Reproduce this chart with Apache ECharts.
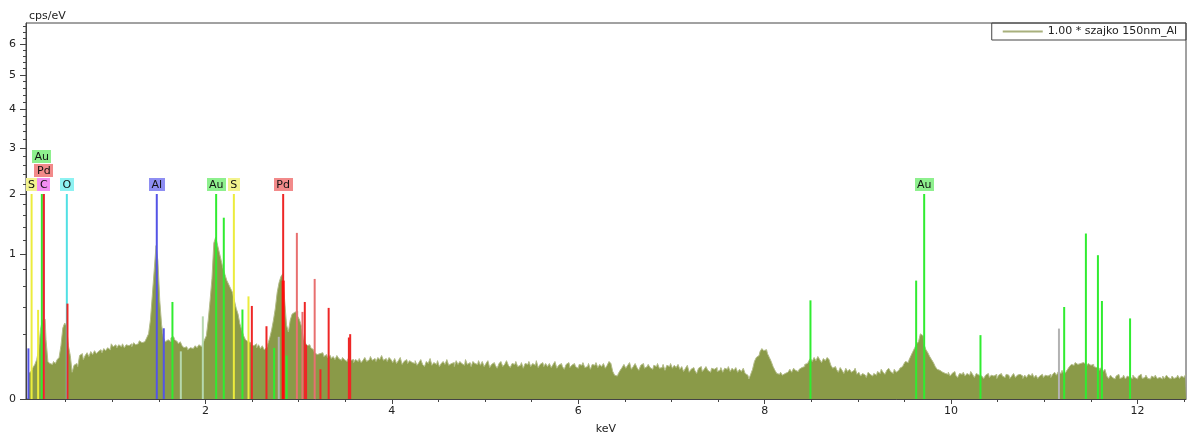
<!DOCTYPE html>
<html><head><meta charset="utf-8">
<script src="https://cdn.jsdelivr.net/npm/echarts@6/dist/echarts.min.js"></script>
<style>html,body{margin:0;padding:0;background:#fff}#c{width:1187px;height:440px}</style>
</head><body><div id="c"></div>
<script>
// ---- spectrum: channel start, channel width (keV), counts in cps/eV ----
const E0 = 0.10, dE = 0.02;
const countsLow = [
0.031,0.036,0.036,0.047,0.057,0.074,0.116,0.227,0.297,0.304,
0.167,0.067,0.060,0.057,0.067,0.060,0.074,0.082,0.135,0.240,
0.275,0.254,0.135,0.090,0.034,0.054,0.060,0.050,0.090,0.098,
0.074,0.090,0.102,0.086,0.107,0.094,0.111,0.098,0.107,0.116,
0.102,0.121,0.111,0.125,0.116,0.145,0.130,0.140,0.125,0.140,
0.130,0.145,0.125,0.140,0.135,0.145,0.130,0.151,0.140,0.145,
0.161,0.151,0.156,0.167,0.178,0.202,0.297,0.511,0.783,1.120,
0.908,0.463,0.261,0.178,0.156,0.167,0.156,0.178,0.184,0.167,
0.156,0.145,0.156,0.135,0.125,0.130,0.116,0.125,0.121,0.125,
0.135,0.125,0.140,0.130,0.145,0.167,0.190,0.297,0.463,0.690,
1.157,1.246,1.128,1.015,0.908,0.807,0.736,0.667,0.624,0.581,
0.541,0.463,0.392,0.343,0.268,0.227,0.190,0.167,0.156,0.151,
0.140,0.135,0.145,0.125,0.140,0.121,0.135,0.116,0.125,0.145,
0.178,0.227,0.297,0.392,0.541,0.645,0.713,0.747,0.463,0.261,
0.214,0.297,0.343,0.359,0.367,0.327,0.297,0.254,0.178,0.151,
0.135,0.140,0.125,0.116,0.102,0.094,0.098,0.090,0.102,0.086,
0.094,0.082,0.090,0.078,0.086,0.074,0.090,0.078,0.071,0.082,
0.074,0.067,0.078,0.071,0.074,0.063,0.074,0.067,0.078,0.063,
0.071,0.082,0.067,0.074,0.086,0.071,0.078,0.067,0.082,0.074,
0.090,0.071,0.078,0.067,0.082,0.074
];
const countsHigh = [
0.063,0.078,0.060,0.070,0.082,0.057,0.067,0.074,0.060,0.070,0.063,
0.060,0.070,0.054,0.063,0.074,0.057,0.050,0.067,0.060,0.078,0.054,0.063,0.057,0.070,0.050,0.060,0.067,0.057,0.074,0.054,0.060,0.063,0.050,0.070,0.057,0.067,0.060,0.054,0.074,0.057,0.063,0.050,0.067,0.060,0.057,0.070,
0.054,0.067,0.050,0.060,0.070,0.047,0.057,0.063,0.054,0.045,0.060,0.067,0.050,0.057,0.070,0.054,0.047,0.060,0.057,0.067,0.050,0.054,0.063,0.045,0.060,0.057,0.067,0.050,0.060,0.054,0.070,0.047,0.057,0.063,0.050,0.060,
0.050,0.060,0.047,0.057,0.067,0.045,0.054,0.060,0.050,0.042,0.057,0.063,0.047,0.054,0.060,0.050,0.045,0.057,0.054,0.063,0.047,0.050,0.060,0.042,0.057,0.054,0.063,0.047,0.057,0.050,0.060,0.045,0.054,0.067,0.060,
0.036,0.027,0.025,0.031,0.039,
0.047,0.057,0.045,0.054,0.063,0.042,0.050,0.060,0.047,0.039,0.054,0.060,0.045,0.050,0.057,0.047,0.042,0.054,0.050,0.060,0.045,0.047,0.057,0.039,0.054,0.050,0.060,0.045,0.054,0.047,0.057,
0.042,0.050,0.036,0.045,0.054,0.034,0.042,0.047,0.039,0.031,0.045,0.050,0.036,0.042,0.050,0.039,0.034,0.045,0.042,0.047,0.036,0.039,0.047,0.034,0.045,0.042,0.050,0.036,0.045,0.039,0.047,0.034,0.042,0.036,0.045,0.031,
0.027,0.019,0.029,0.042,
0.067,0.082,0.090,
0.107,0.121,0.111,0.116,0.098,0.082,
0.067,0.050,0.039,
0.031,0.029,0.034,0.027,0.031,0.034,
0.036,0.042,0.034,0.045,0.039,0.036,0.042,0.047,
0.050,0.057,0.060,0.067,
0.078,0.067,0.082,0.070,0.086,0.074,0.063,0.078,0.070,0.082,0.074,
0.054,0.045,0.050,
0.042,0.034,0.047,0.039,0.031,0.045,0.036,0.042,0.034,0.039,0.045,
0.029,0.034,0.025,0.031,0.027,0.022,0.034,0.029,0.025,0.031,0.027,
0.036,0.031,0.042,0.034,0.029,0.039,0.045,0.036,0.031,0.042,0.034,0.039,0.045,0.050,
0.057,0.067,0.063,0.074,
0.090,0.107,0.125,
0.145,0.156,
0.202,0.190,
0.140,0.116,0.102,
0.086,0.074,0.063,
0.050,0.042,0.039,0.034,0.036,0.031,
0.029,0.034,0.025,0.031,0.036,0.027,0.022,0.031,0.029,0.034,0.025,0.031,0.027,0.036,0.029,0.022,0.031,0.027,
0.025,0.029,0.020,0.027,0.031,0.022,0.027,0.025,0.029,0.020,0.027,0.031,0.025,0.022,0.029,0.027,0.020,0.025,0.031,0.022,0.027,0.029,0.025,0.020,0.027,0.022,0.029,0.025,0.031,0.022,0.027,0.020,0.025,0.029,0.022,0.027,0.025,0.029,0.022,
0.029,0.034,0.027,0.036,0.031,0.039,0.029,0.034,0.042,
0.050,0.057,0.054,0.063,0.057,0.060,0.054,0.063,0.057,0.050,0.060,0.054,0.057,0.050,0.047,
0.045,0.039,0.047,0.036,0.042,
0.025,0.020,0.027,0.022,0.019,0.025,0.029,0.020,0.022,0.027,0.019,0.025,0.022,0.020,0.027,0.022,0.019,0.025,0.029,0.020,0.022,0.027,0.020,0.019,0.025,0.022,0.027,0.020,0.022,0.019,0.025,0.020,0.027,0.022,0.019,0.025,0.020,0.022,0.027,0.020,0.025,0.022,0.027
];
const counts = countsLow.concat(countsHigh);

// ---- element marker lines (keV, cps/eV, element key) ----
const lineE   = [0.101,0.135,0.205,0.266,0.245,0.266,0.513,0.520,1.478,1.553,1.646,1.736,1.972,2.115,2.197,2.305,2.397,2.462,2.498,2.655,2.737,2.787,2.834,2.834,2.871,2.981,3.041,3.066,3.080,3.172,3.234,3.322,3.539,3.553,8.491,9.625,9.711,10.315,11.157,11.213,11.446,11.575,11.618,11.920];
const lineCps = [0.122,2,0.378,2,2,2,2,0.433,2,0.238,0.448,0.108,0.325,2,1.564,2,0.381,0.501,0.412,0.252,0.124,0.184,2,0.667,0.090,1.313,0.361,0.448,0.140,0.686,0.042,0.395,0.180,0.200,0.463,0.667,2,0.194,0.236,0.403,1.303,0.984,0.457,0.309];
const lineKey = ['Al','S','S','C','Au','Pd','O','Pd','Al','Al','Au','pale','pale','Au','Au','S','Au','S','Pd','Pd','Au','grey','Pd','Pd2','Au','PdL','PdL','Pd','Pd','PdL','Pd','Pd','Pd','Pd','Au','Au','Au','Au','grey','Au','Au','Au','Au','Au'];

// ---- element labels (element, keV) ----
const labelEl = ['S','C','Pd','Au','O','Al','Au','S','Pd','Au'];
const labelE  = [0.135,0.266,0.266,0.245,0.513,1.478,2.115,2.305,2.834,9.711];
const labelCps = 2;

// ---- axes ----
const xMin = 0.075, xMax = 12.52;
const yMaxCps = 6.727;
const xMajor = [2,4,6,8,10,12];
const xMinor = [0.5,1,1.5,2,2.5,3,3.5,4,4.5,5,5.5,6,6.5,7,7.5,8,8.5,9,9.5,10,10.5,11,11.5,12,12.5];
const yMajor = [0,1,2,3,4,5,6];
const yMinor = [];
for (let i = 1; i <= 33; i++) yMinor.push(+(i * 0.2).toFixed(1));

const seriesName = '1.00 * szajko 150nm_Al';

const lineColor = {Au:'#30ec30', Pd:'#ee2626', PdL:'#e87070', Pd2:'#ff0c0c', S:'#ecec3c', Al:'#5454e6', O:'#50e0e4', C:'#ee55ee', grey:'#b2b2b2', pale:'#b6d8ae'};
const boxColor  = {Au:'#8ef08e', Pd:'#f28a8a', S:'#f3f38e', Al:'#8e8ef2', O:'#8ef2f2', C:'#f28ef2'};
const FONT = '"DejaVu Sans", Verdana, sans-serif';

const sq = v => Math.sqrt(v);
const specData = counts.map((v, i) => [+(E0 + i * dE).toFixed(2), sq(v)]);
const lineData = lineE.map((e, i) => [e, sq(lineCps[i])]);
const labelData = labelE.map(e => [e, sq(labelCps)]);

const mctx = document.createElement('canvas').getContext('2d');
mctx.font = '11px ' + FONT;
let placed = [];

const chart = echarts.init(document.getElementById('c'), null, {renderer: 'canvas'});
const axisCol = '#444';
chart.setOption({
  animation: false,
  grid: {left: 26, top: 23, width: 1160, height: 381, show: true, borderColor: axisCol, borderWidth: 1, containLabel: false},
  legend: {
    right: 1, top: 23, selectedMode: false,
    data: [{name: seriesName, icon: 'rect', itemStyle: {color: '#a8b07c'}}],
    itemWidth: 40, itemHeight: 2,
    borderColor: axisCol, borderWidth: 1, padding: [3, 9, 3, 11],
    textStyle: {fontFamily: FONT, fontSize: 11, color: '#222'}
  },
  graphic: [{type: 'text', left: 29, top: 11, style: {text: 'cps/eV', font: '11px ' + FONT, fill: '#222'}}],
  xAxis: [
    {type: 'value', min: xMin, max: xMax, position: 'bottom',
     axisLine: {show: true, lineStyle: {color: axisCol}},
     axisTick: {show: true, length: 3, customValues: xMinor, lineStyle: {color: axisCol}},
     axisLabel: {show: false}, splitLine: {show: false}},
    {type: 'value', min: xMin, max: xMax, position: 'bottom',
     name: 'keV', nameLocation: 'middle', nameGap: 25,
     nameTextStyle: {fontFamily: FONT, fontSize: 11, color: '#222'},
     axisLine: {show: false},
     axisTick: {show: true, length: 5, customValues: xMajor, lineStyle: {color: axisCol}},
     axisLabel: {customValues: xMajor, margin: 7, fontFamily: FONT, fontSize: 11, color: '#222'},
     splitLine: {show: false}}
  ],
  yAxis: [
    {type: 'value', min: 0, max: sq(yMaxCps),
     axisLine: {show: true, lineStyle: {color: axisCol}},
     axisTick: {show: true, length: 3, customValues: yMinor.map(sq), lineStyle: {color: axisCol}},
     axisLabel: {show: false}, splitLine: {show: false}},
    {type: 'value', min: 0, max: sq(yMaxCps), position: 'left',
     axisLine: {show: false},
     axisTick: {show: true, length: 6, customValues: yMajor.map(sq), lineStyle: {color: axisCol}},
     axisLabel: {customValues: yMajor.map(sq), margin: 10, fontFamily: FONT, fontSize: 11, color: '#222',
                 formatter: v => String(Math.round(v * v))},
     splitLine: {show: false}}
  ],
  series: [
    {name: seriesName, type: 'line', xAxisIndex: 0, yAxisIndex: 0, data: specData,
     step: 'middle', symbol: 'none', z: 2,
     lineStyle: {color: '#b2bb88', width: 1},
     itemStyle: {color: '#a8b07c'},
     areaStyle: {color: '#8a9a48', opacity: 1}},
    {name: 'lines', type: 'custom', xAxisIndex: 0, yAxisIndex: 0, data: lineData, z: 3,
     renderItem: (params, api) => {
       const i = params.dataIndex;
       const p0 = api.coord([api.value(0), 0]);
       const p1 = api.coord([api.value(0), api.value(1)]);
       const k = lineKey[i];
       return {type: 'line', shape: {x1: p0[0], y1: p0[1], x2: p1[0], y2: p1[1]},
               style: {stroke: lineColor[k], lineWidth: k === 'Pd2' ? 3 : 2}};
     }},
    {name: 'labels', type: 'custom', xAxisIndex: 0, yAxisIndex: 0, data: labelData, z: 4,
     renderItem: (params, api) => {
       const i = params.dataIndex;
       if (i === 0) placed = [];
       const el = labelEl[i];
       const p = api.coord([api.value(0), api.value(1)]);
       const w = Math.round(mctx.measureText(el).width) + 5;
       const x0 = p[0] - w / 2, x1 = p[0] + w / 2;
       let row = 0;
       while (placed.some(b => b.row === row && b.x0 < x1 - 1.5 && x0 < b.x1 - 1.5)) row++;
       placed.push({row, x0, x1});
       const bottom = p[1] - 3 - row * 14;
       const h = 13;
       return {type: 'group', children: [
         {type: 'rect', shape: {x: Math.round(x0), y: Math.round(bottom - h), width: w, height: h},
          style: {fill: boxColor[el]}},
         {type: 'text', x: p[0], y: bottom - h / 2 + 0.5,
          style: {text: el, font: '11px ' + FONT, fill: '#111', align: 'center', verticalAlign: 'middle'}}
       ]};
     }}
  ]
});
</script>
</body></html>
